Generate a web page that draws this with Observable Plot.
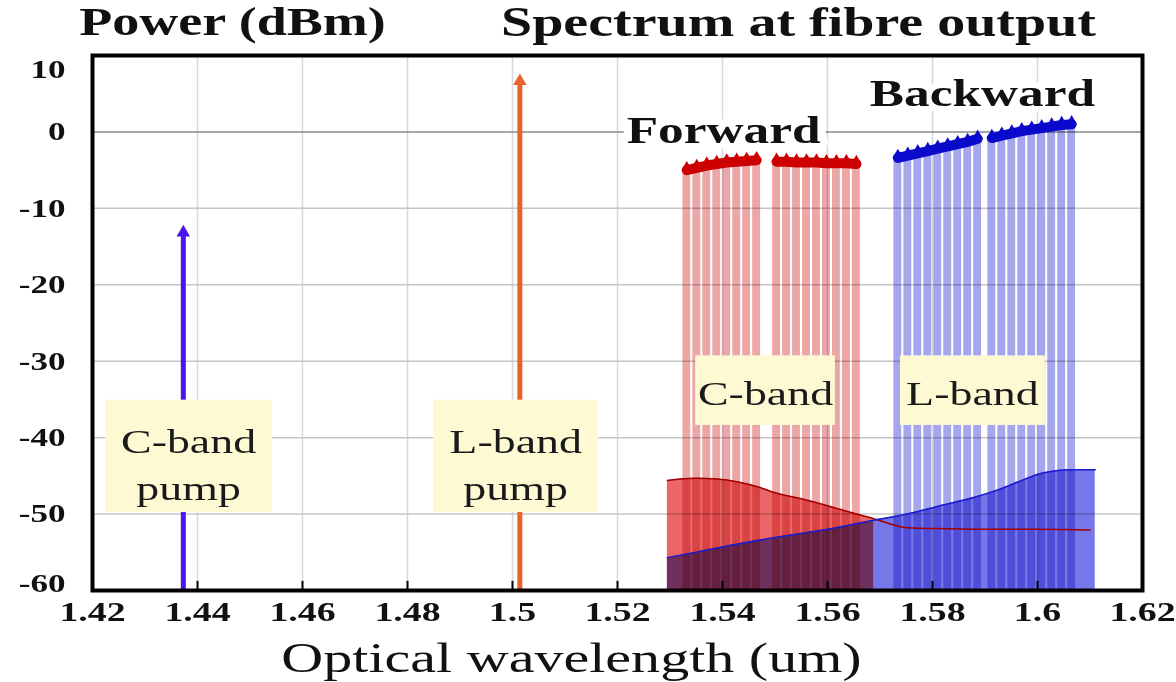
<!DOCTYPE html>
<html>
<head>
<meta charset="utf-8">
<script src="https://cdn.jsdelivr.net/npm/d3@7"></script>
<script src="https://cdn.jsdelivr.net/npm/@observablehq/plot@0.6"></script>
<style>
  html, body { margin: 0; padding: 0; background: #fff; }
</style>
</head>
<body>
<div id="chart"></div>
<script>
// ---------------- data ----------------
const xTicks = [1.42, 1.44, 1.46, 1.48, 1.5, 1.52, 1.54, 1.56, 1.58, 1.6, 1.62];
const xTickLabels = ["1.42", "1.44", "1.46", "1.48", "1.5", "1.52", "1.54", "1.56", "1.58", "1.6", "1.62"];
const yTicks = [10, 0, -10, -20, -30, -40, -50, -60];
const yTickLabels = ["10", "0", "-10", "-20", "-30", "-40", "-50", "-60"];

const pumpName = ["C-band pump", "L-band pump"];
const pumpWavelength = [1.4373, 1.5014];
const pumpPower = [-12.9, 6.9];

const forwardWavelength = [1.5332, 1.5351, 1.5370, 1.5389, 1.5408, 1.5427, 1.5446, 1.5465,
                           1.5503, 1.5522, 1.5541, 1.5560, 1.5579, 1.5598, 1.5617, 1.5636, 1.5655];
const forwardPower = [-5.0, -4.7, -4.4, -4.2, -4.0, -3.9, -3.8, -3.7,
                      -3.9, -3.9, -4.0, -4.0, -4.0, -4.1, -4.1, -4.1, -4.2];
const forwardGroup = [1, 1, 1, 1, 1, 1, 1, 1, 2, 2, 2, 2, 2, 2, 2, 2, 2];

const backwardWavelength = [1.5734, 1.5753, 1.5772, 1.5791, 1.5810, 1.5829, 1.5848, 1.5867, 1.5886,
                            1.5913, 1.5932, 1.5951, 1.5970, 1.5989, 1.6008, 1.6027, 1.6046, 1.6065];
const backwardPower = [-3.4, -3.1, -2.8, -2.5, -2.2, -1.9, -1.6, -1.3, -0.9,
                       -0.8, -0.5, -0.2, 0.1, 0.3, 0.5, 0.7, 0.9, 1.0];
const backwardGroup = [1, 1, 1, 1, 1, 1, 1, 1, 1, 2, 2, 2, 2, 2, 2, 2, 2, 2];

const forwardAseWavelength = [1.5295, 1.5320, 1.5350, 1.5390, 1.5430, 1.5470, 1.5500, 1.5550, 1.5600,
                              1.5650, 1.5688, 1.5720, 1.5752, 1.5800, 1.5900, 1.6000, 1.6100];
const forwardAsePower = [-45.6, -45.4, -45.3, -45.4, -45.8, -46.5, -47.2, -48.0, -48.9,
                         -49.9, -50.6, -51.3, -51.8, -51.9, -52.0, -52.0, -52.1];
const forwardAseFilledUpTo = 1.5688;

const backwardAseWavelength = [1.5295, 1.5350, 1.5400, 1.5497, 1.5600, 1.5688, 1.5752, 1.5815,
                               1.5880, 1.5930, 1.5970, 1.6006, 1.6063, 1.6110];
const backwardAsePower = [-55.7, -55.0, -54.3, -53.1, -52.0, -50.8, -50.0, -48.9,
                          -47.8, -46.7, -45.6, -44.7, -44.2, -44.2];

const bandLabel = ["C-band", "L-band", "C-band\npump", "L-band\npump"];
const bandLabelWavelength = [1.5482, 1.5876, 1.4383, 1.5006];
const bandLabelPower = [-33.8, -33.8, -43.1, -43.1];
const bandBoxX1 = [1.5349, 1.5739, 1.4225, 1.4850];
const bandBoxX2 = [1.5615, 1.6015, 1.4543, 1.5164];
const bandBoxY1 = [-38.4, -38.4, -49.8, -49.8];
const bandBoxY2 = [-29.3, -29.3, -35.1, -35.1];

const directionLabel = ["Forward", "Backward"];
const directionWavelength = [1.5402, 1.5895];
const directionPower = [0.2, 5.0];

const titleLeft = "Power (dBm)";
const titleRight = "Spectrum at fibre output";
const xTitle = "Optical wavelength (um)";

// ---------------- styles ----------------
const CHANNEL_WIDTH = 0.0015;
const PUMP_COLORS = ["#4a16ee", "#e8622c"];
const SERIF = "'Liberation Serif', 'Times New Roman', serif";
const STRETCH = 1.35;

// ---------------- tables ----------------
const pumps = pumpName.map((n, i) => ({name: n, wl: pumpWavelength[i], p: pumpPower[i], i}));
const fwd = forwardWavelength.map((w, i) => ({wl: w, p: forwardPower[i], g: forwardGroup[i]}));
const bwd = backwardWavelength.map((w, i) => ({wl: w, p: backwardPower[i], g: backwardGroup[i]}));
const fwdAse = forwardAseWavelength.map((w, i) => ({wl: w, p: forwardAsePower[i]}));
const bwdAse = backwardAseWavelength.map((w, i) => ({wl: w, p: backwardAsePower[i]}));
const labels = bandLabel.map((t, i) => ({
  t, wl: bandLabelWavelength[i], p: bandLabelPower[i],
  x1: bandBoxX1[i], x2: bandBoxX2[i], y1: bandBoxY1[i], y2: bandBoxY2[i]
}));
const dirs = directionLabel.map((t, i) => ({t, wl: directionWavelength[i], p: directionPower[i]}));
const yMin = yTicks[yTicks.length - 1];

const svg = Plot.plot({
  width: 1176,
  height: 682,
  marginLeft: 92,
  marginRight: 34,
  marginTop: 55,
  marginBottom: 92,
  style: {fontFamily: SERIF, fontSize: "26px", fontWeight: "bold", color: "#111", background: "#fff"},
  x: {domain: [xTicks[0], xTicks[xTicks.length - 1]], label: null},
  y: {domain: [yMin, yTicks[0]], label: null},
  marks: [
    // grid
    Plot.gridX(xTicks, {stroke: "#d6d8e0", strokeOpacity: 1, strokeWidth: 1.5}),
    Plot.gridY(yTicks.filter(d => d !== 0), {stroke: "#c6c6c6", strokeOpacity: 1, strokeWidth: 1.5}),
    Plot.ruleY([0], {stroke: "#8a8a8a", strokeWidth: 1.5}),

    // pumps
    Plot.ruleX(pumps, {x: "wl", y1: yMin, y2: "p", stroke: d => PUMP_COLORS[d.i], strokeWidth: 5}),
    Plot.dot(pumps, {x: "wl", y: "p", symbol: "triangle", r: 5, fill: d => PUMP_COLORS[d.i], dy: 2}),

    // ASE floors
    Plot.areaY(bwdAse, {x: "wl", y1: yMin, y2: "p", fill: "#2424dc", fillOpacity: 0.62, curve: "monotone-x", mixBlendMode: "multiply"}),
    Plot.areaY(fwdAse, {filter: d => d.wl <= forwardAseFilledUpTo, x: "wl", y1: yMin, y2: "p", fill: "#dd0000", fillOpacity: 0.6, curve: "monotone-x", mixBlendMode: "multiply"}),

    // signal channels
    Plot.rect(fwd, {x1: d => d.wl - CHANNEL_WIDTH / 2, x2: d => d.wl + CHANNEL_WIDTH / 2, y1: yMin, y2: "p", fill: "#d83a3a", fillOpacity: 0.45, mixBlendMode: "multiply"}),
    Plot.rect(bwd, {x1: d => d.wl - CHANNEL_WIDTH / 2, x2: d => d.wl + CHANNEL_WIDTH / 2, y1: yMin, y2: "p", fill: "#3a3ad8", fillOpacity: 0.45, mixBlendMode: "multiply"}),

    // ASE edges
    Plot.line(fwdAse, {x: "wl", y: "p", stroke: "#a00000", strokeWidth: 1.5, curve: "monotone-x"}),
    Plot.line(bwdAse, {x: "wl", y: "p", stroke: "#1a1ad0", strokeWidth: 1.5, curve: "monotone-x"}),

    // channel tops
    Plot.line(fwd, {x: "wl", y: "p", z: "g", stroke: "#cc0000", strokeWidth: 10, strokeLinecap: "round"}),
    Plot.dot(fwd, {x: "wl", y: "p", symbol: "triangle", r: 4, fill: "#cc0000", dy: -3}),
    Plot.line(bwd, {x: "wl", y: "p", z: "g", stroke: "#0a0acc", strokeWidth: 10, strokeLinecap: "round"}),
    Plot.dot(bwd, {x: "wl", y: "p", symbol: "triangle", r: 4, fill: "#0a0acc", dy: -3}),

    // label boxes
    Plot.rect(labels, {x1: "x1", x2: "x2", y1: "y1", y2: "y2", fill: "#fdfad3"}),
    Plot.text(labels, {x: "wl", y: "p", text: "t", fontSize: 34, fontWeight: "normal", fill: "#1a1a1a", lineHeight: 1.38}),

    // direction labels
    Plot.text(dirs, {x: "wl", y: "p", text: "t", fontSize: 38, fontWeight: "bold", fill: "#111", stroke: "#fff", strokeWidth: 12}),

    // frame and inner ticks
    Plot.frame({stroke: "#000", strokeWidth: 4}),
    Plot.ruleX(xTicks.slice(1, -1), {y1: yMin, y2: yMin + 1.2, stroke: "#000", strokeWidth: 2}),

    // axes
    Plot.axisX(xTicks, {tickSize: 0, tickPadding: 11, tickFormat: d => xTickLabels[xTicks.indexOf(d)], fontSize: 28, fontWeight: "bold"}),
    Plot.axisY(yTicks.slice(1, -1), {tickSize: 0, tickPadding: 27, tickFormat: d => yTickLabels[yTicks.indexOf(d)], fontSize: 26, fontWeight: "bold"}),
    Plot.axisY([yTicks[0]], {tickSize: 0, tickPadding: 27, tickFormat: d => yTickLabels[yTicks.indexOf(d)], fontSize: 26, fontWeight: "bold", dy: 14}),
    Plot.axisY([yMin], {tickSize: 0, tickPadding: 27, tickFormat: d => yTickLabels[yTicks.indexOf(d)], fontSize: 26, fontWeight: "bold", dy: -7}),

    // titles
    Plot.text([titleLeft], {text: d => d, frameAnchor: "top-left", lineAnchor: "middle", dx: 140, dy: -33, textAnchor: "middle", fontSize: 40, fontWeight: "bold", fill: "#111"}),
    Plot.text([titleRight], {text: d => d, frameAnchor: "top-left", lineAnchor: "middle", dx: 706, dy: -33, textAnchor: "middle", fontSize: 41.5, fontWeight: "bold", fill: "#111"}),
    Plot.text([xTitle], {text: d => d, frameAnchor: "bottom-left", lineAnchor: "middle", dx: 479, dy: 68, textAnchor: "middle", fontSize: 43, fontWeight: "normal", fill: "#111"})
  ]
});

document.getElementById("chart").append(svg);

// The reference lettering is horizontally wide: stretch every text run.
d3.select(svg).selectAll("text").each(function () {
  const spans = this.querySelectorAll("tspan");
  const runs = spans.length ? Array.from(spans) : [this];
  for (const r of runs) {
    const len = r.getComputedTextLength();
    if (len > 0) {
      r.setAttribute("textLength", (len * STRETCH).toFixed(1));
      r.setAttribute("lengthAdjust", "spacingAndGlyphs");
    }
  }
});
</script>
</body>
</html>
